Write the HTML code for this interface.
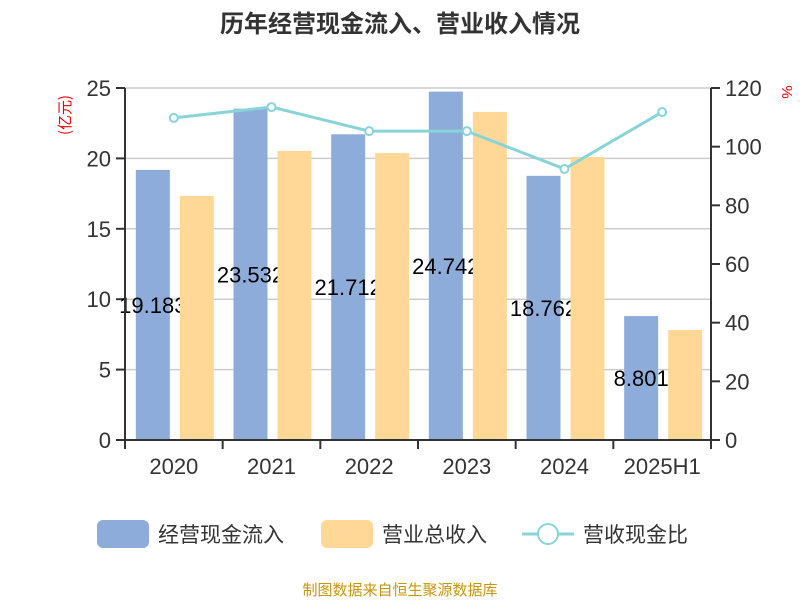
<!DOCTYPE html>
<html><head><meta charset="utf-8"><style>
body{margin:0;background:#fff;}
svg{display:block;font-family:"Liberation Sans","Noto Sans CJK SC",sans-serif;}
</style></head><body>
<svg id="c" width="800" height="600">
<text x="400" y="32" text-anchor="middle" font-size="24" font-weight="bold" fill="#333" font-family="Noto Sans CJK SC, sans-serif">历年经营现金流入、营业收入情况</text>
<text transform="translate(70,115) rotate(-90)" text-anchor="middle" font-size="15" fill="#e00" font-family="Noto Sans CJK SC, sans-serif">(亿元)</text>
<text transform="translate(782,92) rotate(90)" text-anchor="middle" font-size="15" fill="#e00">%</text>
<g id="g"></g>
<g>
<g><rect x="97" y="520" width="52" height="28" rx="6" fill="#8eacd9"/><text x="158" y="542" font-size="21" fill="#333" font-family="Noto Sans CJK SC, sans-serif">经营现金流入</text></g>
<g><rect x="321" y="520" width="52" height="28" rx="6" fill="#ffd898"/><text x="382" y="542" font-size="21" fill="#333" font-family="Noto Sans CJK SC, sans-serif">营业总收入</text></g>
<g><line x1="522" y1="534" x2="574" y2="534" stroke="#88d4d8" stroke-width="3"/><circle cx="548" cy="534" r="10" fill="#fff" stroke="#88d4d8" stroke-width="2"/><text x="583" y="542" font-size="21" fill="#333" font-family="Noto Sans CJK SC, sans-serif">营收现金比</text></g>
</g>
<text x="400" y="595" text-anchor="middle" font-size="15" fill="#c8960a" font-family="Noto Sans CJK SC, sans-serif">制图数据来自恒生聚源数据库</text>
</svg>
<script>
const categories=["2020","2021","2022","2023","2024","2025H1"];
const cashInflow=[19.183,23.532,21.712,24.742,18.762,8.801];
const revenue=[17.33,20.53,20.38,23.3,20.1,7.81];
const ratio=[109.8,113.5,105.3,105.3,92.4,111.8];
const leftTicks=[0,5,10,15,20,25];
const rightTicks=[0,20,40,60,80,100,120];
const NS="http://www.w3.org/2000/svg";
const g=document.getElementById('g');
const X0=125,X1=711,Y0=440,Y1=88;
const band=(X1-X0)/categories.length;
const yL=v=>Y0-(v/25)*(Y0-Y1);
const yR=v=>Y0-(v/120)*(Y0-Y1);
const xC=i=>X0+band*(i+0.5);
function mk(t,a){const e=document.createElementNS(NS,t);for(const k in a)e.setAttribute(k,a[k]);g.appendChild(e);return e;}
leftTicks.forEach(v=>{
 if(v>0){const l=mk('line',{x1:X0,x2:X1,y1:yL(v),y2:yL(v),stroke:'#ccc','stroke-width':1.5});
 
 }
 const t=mk('line',{x1:X0-9,x2:X0,y1:yL(v),y2:yL(v),stroke:'#333','stroke-width':2});
 
 
 const tx=mk('text',{x:X0-14,y:yL(v)+8,'text-anchor':'end','font-size':22,fill:'#333'});tx.textContent=v;
 
 
});
rightTicks.forEach(v=>{
 const t=mk('line',{x1:X1,x2:X1+9,y1:yR(v),y2:yR(v),stroke:'#333','stroke-width':2});
 
 
 const tx=mk('text',{x:X1+14,y:yR(v)+8,'font-size':22,fill:'#333'});tx.textContent=v;
 
 
});
categories.forEach((c,i)=>{
 const b=mk('rect',{x:xC(i)-38,y:yL(cashInflow[i]),width:34,height:Y0-yL(cashInflow[i]),fill:'#8eacd9'});
 
 
 const t=mk('text',{x:xC(i)-21,y:(yL(cashInflow[i])+Y0)/2+8,'text-anchor':'middle','font-size':22,fill:'#000'});t.textContent=cashInflow[i].toFixed(3);
 
 
 const r=mk('rect',{x:xC(i)+6,y:yL(revenue[i]),width:34,height:Y0-yL(revenue[i]),fill:'#ffd898'});
 
 
 const tk=mk('line',{x1:X0+band*i,x2:X0+band*i,y1:Y0,y2:Y0+9,stroke:'#333','stroke-width':2});
 
 
 const xl=mk('text',{x:xC(i),y:474,'text-anchor':'middle','font-size':22,fill:'#333'});xl.textContent=c;
 
 
});
const tk=mk('line',{x1:X1,x2:X1,y1:Y0,y2:Y0+9,stroke:'#333','stroke-width':2});


const ax=mk('line',{x1:X0,x2:X1,y1:Y0,y2:Y0,stroke:'#333','stroke-width':2});


const la=mk('line',{x1:X0,x2:X0,y1:Y1,y2:Y0,stroke:'#333','stroke-width':2});


const ra=mk('line',{x1:X1,x2:X1,y1:Y1,y2:Y0,stroke:'#333','stroke-width':2});


const pl=mk('polyline',{points:ratio.map((v,i)=>xC(i)+','+yR(v)).join(' '),fill:'none',stroke:'#88d4d8','stroke-width':3});


ratio.forEach((v,i)=>{
 const c=mk('circle',{cx:xC(i),cy:yR(v),r:4,fill:'#fff',stroke:'#88d4d8','stroke-width':2});
 
 
});
</script>
</body></html>
